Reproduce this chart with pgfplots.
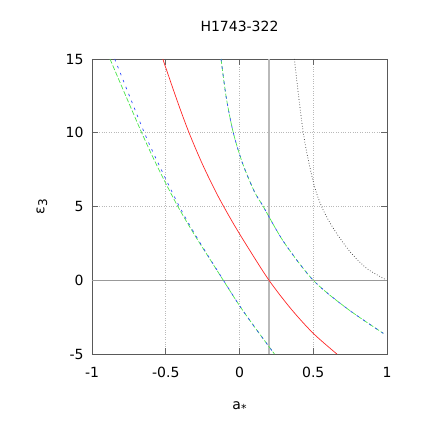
\documentclass[border=0pt]{standalone}
\usepackage{fontspec}
\setmainfont{DejaVu Sans}
\usepackage{pgfplots}
\pgfplotsset{compat=1.18}
\definecolor{myred}{rgb}{1,0.15,0.15}
\definecolor{mygreen}{rgb}{0.3,0.9,0.3}
\definecolor{myblue}{rgb}{0.2,0.3,1}
\begin{document}
\begin{tikzpicture}
\begin{axis}[
  name=ax,
  scale only axis,
  width=295bp, height=295bp,
  xmin=-1, xmax=1, ymin=-5, ymax=15,
  xtick={-1,-0.5,0,0.5,1},
  xticklabels={-1,-0.5,0,0.5,1},
  ytick={-5,0,5,10,15},
  yticklabels={-5,0,5,10,15},
  tick align=inside,
  major tick length=6bp,
  tick style={black!60, line width=0.6bp},
  axis line style={black!65, line width=0.7bp},
  grid=major,
  grid style={gray!55, dotted, line width=0.6bp},
  ticklabel style={font=\fontsize{14bp}{16bp}\selectfont},
  xticklabel style={yshift=-10bp},
  yticklabel style={xshift=-5bp},
  title={\fontsize{14bp}{16bp}\selectfont H1743-322},
  title style={at={(0.5,1)}, anchor=center, yshift=27bp},
  xlabel={\fontsize{14bp}{16bp}\selectfont a\raisebox{-0.35ex}{\fontsize{11bp}{11bp}\selectfont *}},
  xlabel style={at={(0.5,0)}, anchor=center, yshift=-53bp},
  ylabel={\fontsize{14bp}{16bp}\selectfont ε\raisebox{-0.35ex}{\fontsize{12bp}{12bp}\selectfont 3}},
  ylabel style={at={(axis description cs:-0.1695,0.5)}, anchor=center},
  clip=true,
]
% reference lines
\addplot[gray!80, line width=0.8bp, forget plot] coordinates {(-1,0) (1,0)};
\addplot[gray!55, line width=1.5bp, forget plot] coordinates {(0.2,-5) (0.2,15)};
% red
\addplot[myred, line width=0.7bp, smooth] coordinates {
(-0.52,15) (-0.42,12.1) (-0.342,10) (-0.25,7.84) (-0.15,5.79) (-0.05,3.99) (0.05,2.34) (0.2,0) (0.35,-1.95) (0.5,-3.6) (0.66,-5)};
% left green / blue
\addplot[mygreen, line width=0.7bp, dash pattern=on 5bp off 2bp, smooth] coordinates {
(-0.878,15) (-0.663,10) (-0.55,7.57) (-0.42,5.04) (-0.3,3.0) (-0.2,1.42) (-0.11,0) (0.0,-1.72) (0.1,-3.14) (0.2,-4.5) (0.237,-5)};
\addplot[myblue, line width=0.7bp, dash pattern=on 2.5bp off 5bp, smooth] coordinates {
(-0.846,15) (-0.645,10) (-0.535,7.6) (-0.41,5.04) (-0.295,3.0) (-0.198,1.42) (-0.109,0) (0.0,-1.72) (0.1,-3.14) (0.2,-4.5) (0.237,-5)};
% right green / blue
\addplot[mygreen, line width=0.7bp, dash pattern=on 5bp off 2bp, smooth] coordinates {
(-0.125,15) (-0.09,12.4) (-0.042,10) (0.02,7.95) (0.1,6.03) (0.161,5) (0.3,2.6) (0.5,0) (0.727,-1.9) (0.975,-3.6)};
\addplot[myblue, line width=0.7bp, dash pattern=on 2.5bp off 5bp, smooth] coordinates {
(-0.125,15) (-0.09,12.4) (-0.042,10) (0.02,7.95) (0.1,6.03) (0.161,5) (0.3,2.6) (0.5,0) (0.727,-1.9) (0.975,-3.6)};
% black dotted
\addplot[black!80, line width=0.7bp, dotted, smooth] coordinates {
(0.372,15) (0.433,9.96) (0.5,6.68) (0.557,4.99) (0.636,3.52) (0.749,1.94) (0.862,0.81) (0.975,0.13) (0.99,0.05)};
\end{axis}
\pgfresetboundingbox
\path ([xshift=-92bp,yshift=-82bp]ax.south west) rectangle ([xshift=49bp,yshift=59bp]ax.north east);
\end{tikzpicture}
\end{document}
